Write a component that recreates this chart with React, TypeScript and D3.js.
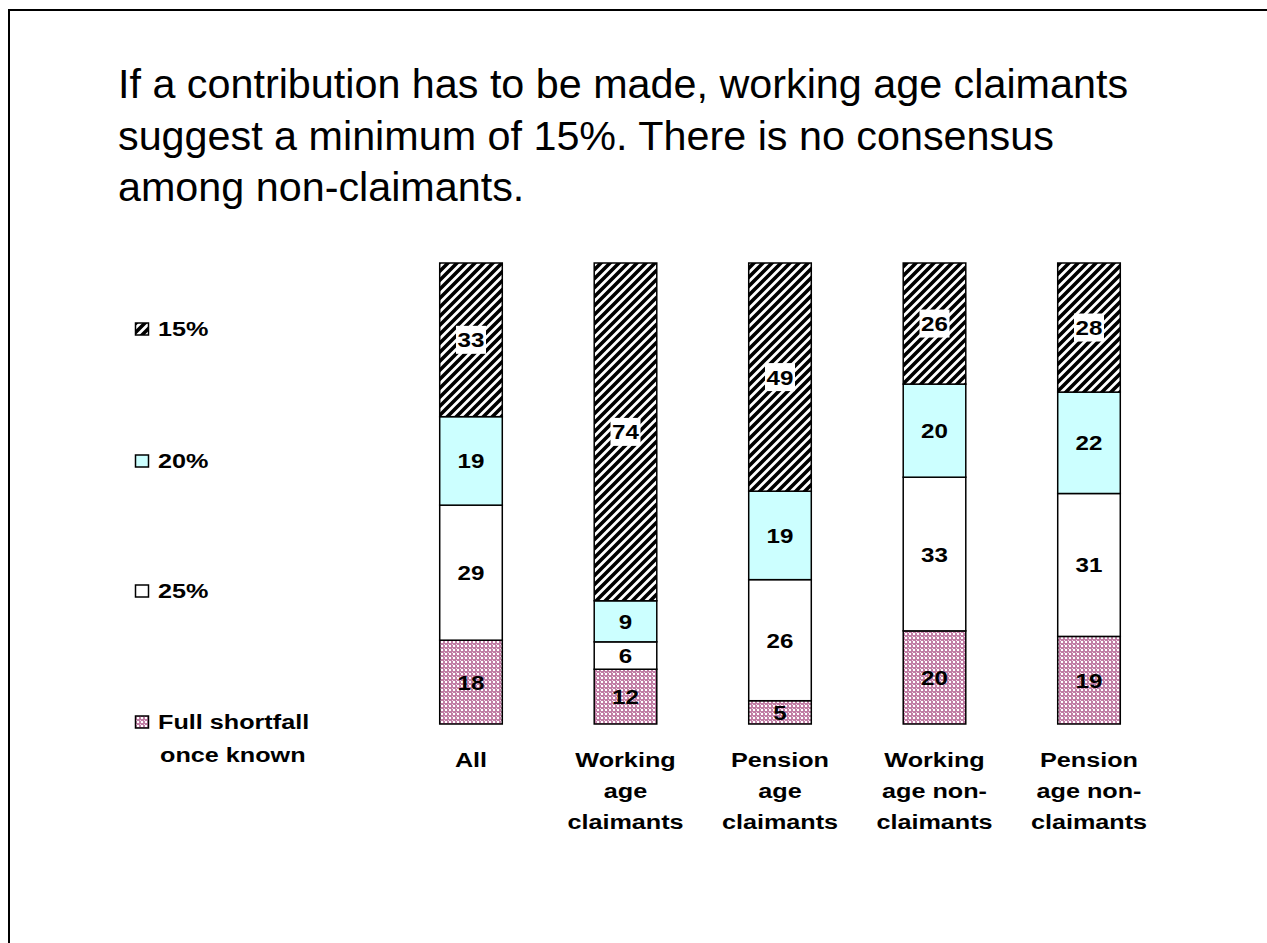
import React from "react";
import * as d3 from "d3";

const categories = ["All", "Working age claimants", "Pension age claimants", "Working age non-claimants", "Pension age non-claimants"];
const categoryLines = [["All"], ["Working", "age", "claimants"], ["Pension", "age", "claimants"], ["Working", "age non-", "claimants"], ["Pension", "age non-", "claimants"]];
const seriesNames = ["Full shortfall once known", "25%", "20%", "15%"];
const fullShortfall = [18, 12, 5, 20, 19];
const pct25 = [29, 6, 26, 33, 31];
const pct20 = [19, 9, 19, 20, 22];
const pct15 = [33, 74, 49, 26, 28];
const titleLines = [
  "If a contribution has to be made, working age claimants",
  "suggest a minimum of 15%. There is no consensus",
  "among non-claimants.",
];

const FONT = "'Liberation Sans', Arial, sans-serif";
const SX = 1.2;

function SText(props: { x: number; y: number; size: number; anchor?: string; bold?: boolean; sx?: number; children: any }) {
  const sx = props.sx ?? SX;
  return (
    <g transform={`translate(${props.x},${props.y}) scale(${sx},1)`}>
      <text x={0} y={0} fontSize={props.size} fontWeight={props.bold ? "bold" : "normal"} textAnchor={props.anchor ?? "start"} fill="#000">
        {props.children}
      </text>
    </g>
  );
}

export default function App() {
  const rows = categories.map((c, i) => ({
    cat: c,
    s0: fullShortfall[i],
    s1: pct25[i],
    s2: pct20[i],
    s3: pct15[i],
  }));
  const keys = ["s0", "s1", "s2", "s3"];
  const stack = d3.stack<any>().keys(keys).offset(d3.stackOffsetExpand);
  const series = stack(rows);
  const x = d3.scalePoint<string>().domain(categories).range([471, 1089]);
  const barW = x.step() * 0.405;
  const y = d3.scaleLinear().domain([0, 1]).range([724, 263]);
  const fills = ["url(#pinkPat)", "#ffffff", "#ccffff", "url(#hatchPat)"];
  const rawVals = [fullShortfall, pct25, pct20, pct15];

  const legendY = [336, 468, 598, 729];
  // legend ordered top to bottom: 15%, 20%, 25%, Full shortfall
  const legendOrder = [3, 2, 1, 0];

  return (
    <svg width={1267} height={943} style={{ position: "absolute", left: 0, top: 0, background: "#fff" }} fontFamily={FONT}>
      <defs>
        <pattern id="hatchPat" patternUnits="userSpaceOnUse" width={9} height={9}>
          <rect width={9} height={9} fill="#fff" />
          <path d="M-2,11 L11,-2 M-2,2 L2,-2 M7,11 L11,7" stroke="#000" strokeWidth={3.6} />
        </pattern>
        <pattern id="pinkPat" patternUnits="userSpaceOnUse" width={4} height={4}>
          <rect width={4} height={4} fill="#c17ea5" />
          <rect x={1} y={1} width={2} height={2} fill="#fff" />
          <rect x={0} y={0} width={1} height={1} fill="#f0d8e6" />
        </pattern>
      </defs>
      <rect x={9} y={10} width={1400} height={1100} fill="none" stroke="#000" strokeWidth={2} />
      {titleLines.map((t, i) => (
        <text key={i} x={118} y={98 + i * 51.5} fontSize={41.3} fill="#000">{t}</text>
      ))}
      {series.map((s, si) => (
        <g key={si}>
          {s.map((d, ci) => {
            const cx = x(categories[ci]) as number;
            const y0 = y(d[0]);
            const y1 = y(d[1]);
            return (
              <rect key={ci} x={cx - barW / 2} y={y1} width={barW} height={y0 - y1} fill={fills[si]} stroke="#000" strokeWidth={1.5} />
            );
          })}
        </g>
      ))}
      {series.map((s, si) => (
        <g key={"l" + si}>
          {s.map((d, ci) => {
            const cx = x(categories[ci]) as number;
            const cy = (y(d[0]) + y(d[1])) / 2;
            const v = rawVals[si][ci];
            const txt = String(v);
            const w = txt.length * 13 + 4;
            return (
              <g key={ci}>
                {si === 3 && <rect x={cx - w / 2} y={cy - 14} width={w} height={28} fill="#fff" />}
                <SText x={cx} y={cy + 7.5} size={21} bold anchor="middle" sx={1.15}>{txt}</SText>
              </g>
            );
          })}
        </g>
      ))}
      {categoryLines.map((lines, ci) =>
        lines.map((l, li) => (
          <SText key={ci + "-" + li} x={x(categories[ci]) as number} y={767 + li * 31} size={21} bold anchor="middle">{l}</SText>
        ))
      )}
      {legendOrder.map((si, i) => {
        const ly = legendY[i];
        const name = seriesNames[si];
        return (
          <g key={si}>
            <rect x={135.5} y={ly - 13} width={13} height={12} fill={fills[si]} stroke="#000" strokeWidth={1.5} />
            {si === 0 ? (
              <>
                <SText x={158} y={ly} size={21} bold>Full shortfall</SText>
                <SText x={160} y={ly + 33} size={21} bold>once known</SText>
              </>
            ) : (
              <SText x={158} y={ly} size={21} bold>{name}</SText>
            )}
          </g>
        );
      })}
    </svg>
  );
}
